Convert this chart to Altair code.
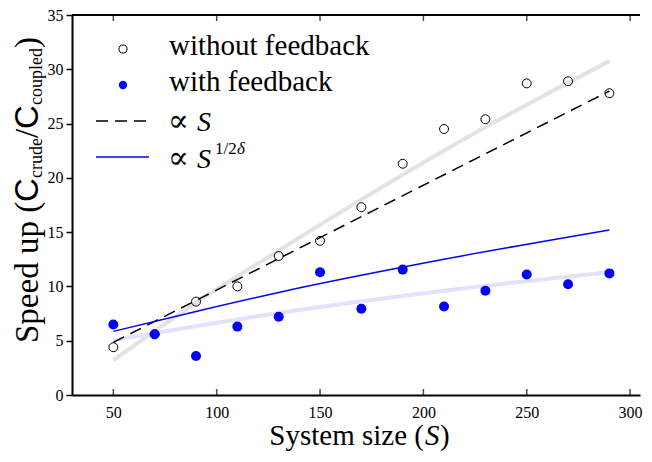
import altair as alt
import pandas as pd

# ---------------- data ----------------
S = [50, 70, 90, 110, 130, 150, 170, 190, 210, 230, 250, 270, 290]
speedup_without = [4.4, 5.6, 8.6, 10.0, 12.8, 14.2, 17.3, 21.3, 24.5, 25.4, 28.7, 28.9, 27.8]
speedup_with = [6.5, 5.6, 3.6, 6.3, 7.2, 11.3, 7.95, 11.55, 8.15, 9.6, 11.1, 10.2, 11.2]

fit_without_S = [50, 90, 130, 170, 220, 290]
fit_without = [3.2, 8.5, 13.3, 18.0, 23.6, 30.75]
fit_with_S = [50, 130, 210, 290]
fit_with = [5.05, 7.55, 9.6, 11.3]
prop_S_S = [50, 290]
prop_S = [4.85, 28.0]
prop_pow_S = [50, 90, 130, 210, 290]
prop_pow = [5.86, 7.7, 9.45, 12.5, 15.2]

x_ticks = [50, 100, 150, 200, 250, 300]
y_ticks = [0, 5, 10, 15, 20, 25, 30, 35]
x_domain = [30, 304.8]
y_domain = [0, 35]

# ---------------- layout ----------------
W, H = 568, 380
SERIF = "Liberation Serif, DejaVu Serif, serif"
SANS = "Liberation Sans, DejaVu Sans, sans-serif"

xs = alt.Scale(domain=x_domain, nice=False, zero=False)
ys = alt.Scale(domain=y_domain, nice=False, zero=False)

x_axis = alt.Axis(values=x_ticks, title=None, ticks=False, grid=False,
                  labelFont=SERIF, labelFontSize=16, labelColor="black",
                  labelPadding=9, domainColor="black", domainWidth=2, format="d")
y_axis = alt.Axis(values=y_ticks, title=None, grid=False, tickSize=6, tickWidth=1.5,
                  tickColor="black", labelFont=SERIF, labelFontSize=16,
                  labelColor="black", labelPadding=3, domainColor="black",
                  domainWidth=2, format="d")


def X(field):
    return alt.X(field, type="quantitative", scale=xs, axis=x_axis)


def Y(field):
    return alt.Y(field, type="quantitative", scale=ys, axis=y_axis)


df_pts = pd.DataFrame({"S": S, "without": speedup_without, "with": speedup_with})
df_fit_wo = pd.DataFrame({"S": fit_without_S, "v": fit_without})
df_fit_w = pd.DataFrame({"S": fit_with_S, "v": fit_with})
df_prop = pd.DataFrame({"S": prop_S_S, "v": prop_S})
df_pow = pd.DataFrame({"S": prop_pow_S, "v": prop_pow})
df_xt_bot = pd.DataFrame({"S": x_ticks, "v": [y_domain[0]] * len(x_ticks)})
df_xt_top = pd.DataFrame({"S": x_ticks, "v": [y_domain[1]] * len(x_ticks)})
one = pd.DataFrame({"a": [0]})

fit_wo_line = alt.Chart(df_fit_wo).mark_line(
    color="#e3e3e3", strokeWidth=4, interpolate="monotone").encode(x=X("S"), y=Y("v"))
fit_w_line = alt.Chart(df_fit_w).mark_line(
    color="#e2e2ff", strokeWidth=4, interpolate="monotone").encode(x=X("S"), y=Y("v"))
prop_line = alt.Chart(df_prop).mark_line(
    color="black", strokeWidth=1.5, strokeDash=[12, 7]).encode(x=X("S"), y=Y("v"))
pow_line = alt.Chart(df_pow).mark_line(
    color="#0000ff", strokeWidth=1.5, interpolate="monotone").encode(x=X("S"), y=Y("v"))

pts_without = alt.Chart(df_pts).mark_point(
    shape="circle", filled=False, color="black", strokeWidth=1, size=80, opacity=1
).encode(x=X("S"), y=Y("without"))
pts_with = alt.Chart(df_pts).mark_circle(
    color="#0000ff", size=100, opacity=1).encode(x=X("S"), y=Y("with"))

ticks_bot = alt.Chart(df_xt_bot).mark_tick(
    orient="vertical", size=6, thickness=1.5, color="black", yOffset=-3
).encode(x=X("S"), y=Y("v"))
ticks_top = alt.Chart(df_xt_top).mark_tick(
    orient="vertical", size=6, thickness=1.5, color="black", yOffset=3
).encode(x=X("S"), y=Y("v"))
top_spine = alt.Chart(one).mark_rule(color="black", strokeWidth=2).encode(
    x=alt.value(0), x2=alt.value(W), y=alt.value(0))


def txt(text, x, y, size, font=SERIF, style="normal", align="left", angle=0,
        baseline="alphabetic"):
    return alt.Chart(one).mark_text(
        text=text, font=font, fontSize=size, fontStyle=style, align=align,
        baseline=baseline, angle=angle, color="black"
    ).encode(x=alt.value(x), y=alt.value(y))


# ---------------- legend (hand-placed) ----------------
leg_x_marker = 51
leg_x_line0, leg_x_line1 = 24, 77
leg_x_text = 97
legend = [
    alt.Chart(one).mark_point(shape="circle", filled=False, color="black",
                              strokeWidth=1, size=65, opacity=1).encode(
        x=alt.value(leg_x_marker), y=alt.value(34)),
    alt.Chart(one).mark_circle(color="#0000ff", size=70, opacity=1).encode(
        x=alt.value(leg_x_marker), y=alt.value(70)),
    alt.Chart(one).mark_rule(color="black", strokeWidth=1.5, strokeDash=[12, 7]).encode(
        x=alt.value(leg_x_line0), x2=alt.value(leg_x_line1), y=alt.value(106)),
    alt.Chart(one).mark_rule(color="#0000ff", strokeWidth=1.5).encode(
        x=alt.value(leg_x_line0), x2=alt.value(leg_x_line1), y=alt.value(142)),
    txt("without feedback", leg_x_text, 40, 29),
    txt("with feedback", leg_x_text, 76, 29),
    txt("\u221d", leg_x_text - 1, 116, 31, font="DejaVu Serif"),
    txt("S", 125, 116, 28, style="italic"),
    txt("\u221d", leg_x_text - 1, 153, 31, font="DejaVu Serif"),
    txt("S", 125, 153, 28, style="italic"),
    txt("1/2", 143, 139, 17),
    txt("\u03b4", 165, 139, 17, style="italic"),
]

# ---------------- axis titles (composed text) ----------------
x_title = [
    txt("System size (", 352, H + 50, 29, align="right"),
    txt("S", 353, H + 50, 29, style="italic"),
    txt(")", 368, H + 50, 29),
]
main_x, sub_x = -34, -30
y_title = [
    txt("Speed up (", main_x, 328, 33, angle=270),
    txt("C", main_x, 187, 33, font=SANS, angle=270),
    txt("crude", sub_x, 163, 18, angle=270),
    txt("/", main_x, 123, 33, angle=270),
    txt("C", main_x, 114, 33, font=SANS, angle=270),
    txt("coupled", sub_x, 90, 18, angle=270),
    txt(")", main_x, 33, 33, angle=270),
]

chart = alt.layer(
    fit_wo_line, fit_w_line, prop_line, pow_line, pts_without, pts_with,
    ticks_bot, ticks_top, top_spine, *legend, *x_title, *y_title
).properties(
    width=W, height=H,
    autosize=alt.AutoSizeParams(type="none"),
    padding={"left": 64, "top": 7, "right": 4, "bottom": 59},
    background="white",
).configure_view(stroke=None)

chart.save("out.html", embed_options={"renderer": "svg", "actions": False})
